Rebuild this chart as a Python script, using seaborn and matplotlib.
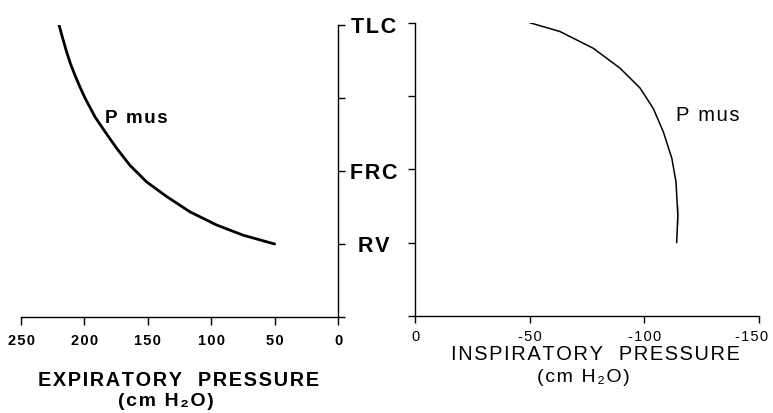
import matplotlib
matplotlib.use("Agg")
import matplotlib.pyplot as plt
from matplotlib.transforms import ScaledTranslation
import seaborn as sns
import pandas as pd

# --- data ---
exp_pressure = [220, 217, 214, 211, 207.4, 203.5, 199.5, 191.6, 183.8, 174.5, 164.2, 150.9, 135.1, 116.7, 95.7, 74.7, 50]
exp_volume = [4.0, 3.81, 3.63, 3.47, 3.31, 3.15, 3.0, 2.74, 2.54, 2.31, 2.08, 1.85, 1.65, 1.44, 1.26, 1.12, 1.0]
insp_pressure = [-50, -63.2, -77.8, -89.4, -98.1, -103.9, -108.3, -112.0, -113.8, -114.6, -114.6, -114.1]
insp_volume = [4.0, 3.88, 3.65, 3.38, 3.11, 2.83, 2.51, 2.15, 1.83, 1.51, 1.24, 1.0]
volume_ticks = [0, 1, 2, 3, 4]
volume_labels = ["", "RV", "FRC", "", "TLC"]
exp_ticks = [250, 200, 150, 100, 50, 0]
insp_ticks = [0, -50, -100, -150]
insp_tick_labels = ["0", "-50", "-100", "-150"]


def spaced(s, sep="\u200a"):
    return sep.join(s)


sns.set_theme(style="ticks")
plt.rcParams["font.family"] = ["Liberation Sans", "DejaVu Sans"]
plt.rcParams["text.color"] = "black"

fig = plt.figure(figsize=(7.73, 4.13), dpi=100)
ax1 = fig.add_axes([21 / 773, 1 - 317 / 413, 317 / 773, 292 / 413])
ax2 = fig.add_axes([415 / 773, 1 - 316 / 413, 344 / 773, 293.3 / 413])

df_exp = pd.DataFrame({"p": exp_pressure, "v": exp_volume})
df_insp = pd.DataFrame({"p": insp_pressure, "v": insp_volume})

sns.lineplot(data=df_exp, x="p", y="v", sort=False, ax=ax1, color="black", linewidth=2.0)
sns.lineplot(data=df_insp, x="p", y="v", sort=False, ax=ax2, color="black", linewidth=1.1)

# left panel
ax1.set_xlim(250, 0)
ax1.set_ylim(0, 4)
ax1.spines["left"].set_visible(False)
ax1.spines["top"].set_visible(False)
for s in ["right", "bottom"]:
    ax1.spines[s].set_linewidth(1.0)
    ax1.spines[s].set_color("black")
ax1.yaxis.tick_right()
ax1.set_yticks(volume_ticks)
ax1.set_yticklabels([spaced(l) for l in volume_labels], fontsize=15.5, fontweight="bold", color="black")
ax1.tick_params(axis="y", direction="out", length=5, width=1, pad=21, colors="black")
for lab in ax1.get_yticklabels():
    lab.set_ha("center")
ax1.set_xticks(exp_ticks)
ax1.set_xticklabels([spaced(str(t)) for t in exp_ticks], fontsize=10.5, fontweight="bold", color="black")
ax1.tick_params(axis="x", direction="out", length=6, width=1, pad=6, colors="black")
ax1.set_xlabel("")
ax1.set_ylabel("")
ax1.text(184, 2.72, spaced("P mus"), fontsize=13.5, fontweight="bold", ha="left", va="center",
         color="black")

# right panel
ax2.set_xlim(0, -150)
ax2.set_ylim(0, 4)
ax2.spines["right"].set_visible(False)
ax2.spines["top"].set_visible(False)
for s in ["left", "bottom"]:
    ax2.spines[s].set_linewidth(1.0)
    ax2.spines[s].set_color("black")
ax2.set_yticks(volume_ticks)
ax2.set_yticklabels([])
ax2.tick_params(axis="y", direction="out", length=5, width=1, colors="black")
ax2.set_xticks(insp_ticks)
ax2.set_xticklabels([spaced(s) for s in insp_tick_labels], fontsize=10.5, color="black")
ax2.tick_params(axis="x", direction="out", length=5, width=1, pad=5, colors="black")
last = ax2.get_xticklabels()[-1]
last.set_transform(last.get_transform() + ScaledTranslation(-7 / 100, 0, fig.dpi_scale_trans))
ax2.set_xlabel("")
ax2.set_ylabel("")
ax2.text(-114, 2.74, spaced("P mus"), fontsize=14.5, ha="left", va="center", color="black")

# titles
fig.text(178 / 773, 1 - 380 / 413, spaced("EXPIRATORY  PRESSURE"), fontsize=14.3, fontweight="bold",
         ha="center", va="center", color="black")
fig.text(166 / 773, 1 - 402 / 413, spaced("(cm H\u2082O)"), fontsize=14, fontweight="bold",
         ha="center", va="center", color="black")
fig.text(595 / 773, 1 - 355 / 413, spaced("INSPIRATORY  PRESSURE"), fontsize=14.4,
         ha="center", va="center", color="black")
fig.text(583 / 773, 1 - 378 / 413, spaced("(cm H\u2082O)"), fontsize=14,
         ha="center", va="center", color="black")

fig.savefig("out.png", dpi=100, facecolor="white")
